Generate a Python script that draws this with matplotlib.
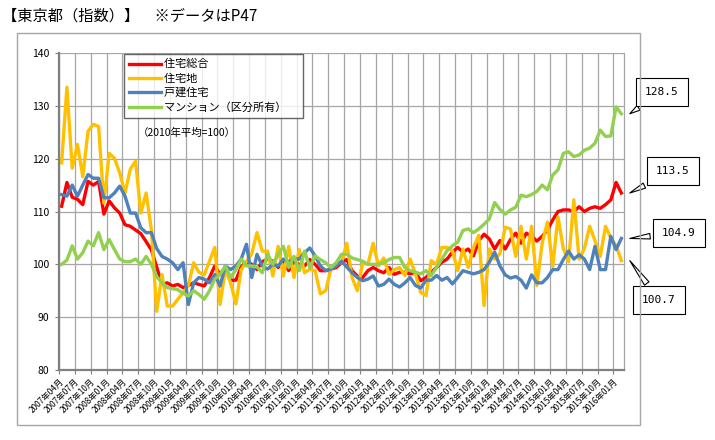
import numpy as np
import pandas as pd
import matplotlib
matplotlib.use('Agg')
import matplotlib.pyplot as plt
from matplotlib.patches import Rectangle

plt.rcParams['font.family'] = ['Noto Sans CJK JP', 'DejaVu Sans']

# monthly index, 2007-04 .. 2016-02 (2010 average = 100)
months = pd.period_range('2007-04', periods=107, freq='M')
month_labels = [f'{p.year}年{p.month:02d}月' for p in months]

total = [111.0, 115.5, 112.7, 112.3, 111.3, 115.7, 115.0, 115.7, 109.5, 112.0,
         110.7, 109.7, 107.5, 107.2, 106.5, 105.8, 104.3, 102.7, 99.5, 96.2,
         96.5, 95.9, 96.2, 95.6, 96.0, 96.5, 96.2, 95.9, 97.5, 99.7,
         98.1, 99.4, 97.0, 97.0, 99.5, 100.5, 100.0, 99.0, 100.5, 101.0,
         100.6, 99.4, 100.9, 98.8, 100.6, 100.0, 99.7, 100.9, 100.0, 98.8,
         98.8, 99.1, 99.4, 100.3, 100.9, 98.8, 97.8, 97.5, 98.8, 99.4,
         98.8, 98.4, 99.4, 98.1, 98.5, 98.5, 98.2, 98.5, 96.9, 97.5,
         98.5, 99.4, 100.4, 101.0, 102.3, 103.2, 102.3, 102.9, 101.6, 104.5,
         105.7, 104.8, 102.9, 104.5, 102.9, 104.7, 105.9, 104.0, 105.9, 105.3,
         104.4, 105.3, 106.5, 108.4, 110.0, 110.3, 110.3, 110.0, 110.9, 110.0,
         110.6, 110.9, 110.6, 111.3, 112.2, 115.5, 113.5]

land = [119.2, 133.5, 118.2, 122.7, 116.6, 125.2, 126.5, 126.1, 111.6, 121.0,
        120.1, 117.3, 113.5, 118.0, 119.5, 109.7, 113.5, 106.5, 91.1, 98.1,
        92.1, 92.1, 93.4, 94.6, 96.0, 100.3, 98.5, 98.0, 100.6, 103.2,
        92.4, 99.0, 96.5, 92.5, 99.0, 100.5, 102.0, 106.0, 102.5, 102.5,
        97.8, 103.4, 97.8, 103.4, 97.5, 102.8, 98.4, 99.1, 98.8, 94.4,
        95.0, 99.1, 100.3, 100.3, 104.0, 97.5, 95.0, 100.3, 100.0, 104.0,
        99.7, 101.2, 98.1, 99.0, 99.4, 97.9, 101.0, 98.2, 94.7, 94.1,
        100.7, 100.0, 103.2, 103.2, 102.6, 98.8, 102.9, 99.4, 103.2, 105.5,
        92.2, 102.9, 101.0, 102.0, 107.0, 106.7, 101.5, 107.2, 101.0, 107.2,
        96.0, 104.0, 108.0, 99.6, 109.0, 103.0, 100.5, 112.2, 101.0, 103.0,
        107.2, 104.5, 101.5, 107.2, 105.0, 103.5, 100.7]

house = [113.2, 112.9, 115.0, 112.9, 115.0, 117.0, 116.3, 116.3, 112.6, 112.6,
         113.5, 114.8, 112.9, 109.7, 109.7, 106.9, 106.0, 106.0, 103.0, 101.5,
         101.0, 100.3, 99.0, 100.3, 92.4, 96.5, 97.5, 97.2, 96.5, 98.1,
         95.9, 99.7, 99.0, 99.7, 101.0, 103.8, 97.5, 101.9, 99.7, 99.1,
         100.0, 99.7, 101.0, 100.5, 101.0, 101.0, 102.2, 103.1, 101.6, 99.7,
         98.8, 99.1, 99.7, 100.6, 99.5, 98.4, 97.5, 96.9, 97.2, 97.8,
         95.9, 96.2, 97.2, 96.2, 95.7, 96.5, 97.5, 96.0, 95.5, 97.0,
         97.0, 97.9, 97.0, 97.5, 96.3, 97.5, 98.8, 98.5, 98.2, 98.5,
         99.0, 100.4, 102.3, 99.7, 98.0, 97.4, 97.7, 97.0, 95.5, 98.0,
         96.5, 96.5, 97.5, 99.0, 99.0, 100.9, 102.5, 101.0, 101.8, 101.0,
         99.0, 103.4, 99.0, 99.0, 105.3, 102.8, 104.9]

condo = [100.0, 100.8, 103.5, 101.0, 102.2, 104.4, 103.5, 106.0, 102.8, 104.7,
         102.8, 101.0, 100.5, 100.5, 101.0, 100.0, 101.5, 100.0, 97.7, 96.5,
         95.6, 95.4, 95.2, 94.5, 94.0, 95.0, 94.3, 93.4, 95.0, 97.2,
         98.1, 99.7, 97.5, 99.0, 101.0, 99.7, 99.7, 99.5, 98.4, 101.9,
         100.0, 101.9, 103.4, 99.4, 101.5, 98.8, 102.5, 99.4, 101.6, 100.9,
         100.3, 99.4, 100.3, 101.9, 101.9, 101.2, 100.9, 100.6, 100.0, 100.0,
         100.0, 100.3, 100.9, 101.3, 101.3, 99.4, 98.8, 98.5, 98.2, 98.8,
         97.9, 99.4, 101.0, 102.6, 103.5, 104.2, 106.4, 106.7, 106.0, 106.7,
         107.6, 108.6, 111.7, 110.4, 109.5, 110.3, 110.8, 113.1, 112.8, 113.2,
         113.8, 115.0, 114.1, 116.9, 117.9, 121.0, 121.3, 120.4, 120.7, 121.6,
         122.0, 122.9, 125.4, 124.2, 124.3, 129.8, 128.5]

series_names = ['住宅総合', '住宅地', '戸建住宅', 'マンション（区分所有）']
series_colors = ['#FF0000', '#FFC000', '#4F81BD', '#92D050']

W, H = 715, 440
fig = plt.figure(figsize=(W / 100, H / 100), dpi=100)
ax = fig.add_axes([59 / W, 1 - 370 / H, (624 - 59) / W, (370 - 53) / H])

x = np.arange(len(months))
for vals, name, col in zip([total, land, house, condo], series_names, series_colors):
    ax.plot(x, vals, color=col, lw=2.4, label=name, solid_joinstyle='round')

ax.set_xlim(-0.5, len(months) - 0.5)
ax.set_ylim(80, 140)
ax.set_yticks(np.arange(80, 141, 10))
ax.tick_params(axis='y', labelsize=7.5, length=3, color='#808080', pad=4)

tick_pos = np.arange(0, len(months), 3) - 0.5
ax.set_xticks(tick_pos)
ax.set_xticklabels(month_labels[::3], rotation=45, ha='right', va='top',
                   rotation_mode='anchor', fontsize=6)
ax.tick_params(axis='x', length=3, color='#808080', pad=2)

ax.grid(True, color='#A6A6A6', lw=0.9)
ax.set_axisbelow(True)
ax.spines['top'].set_visible(False)
ax.spines['right'].set_color('#A6A6A6')
ax.spines['right'].set_linewidth(0.9)
for s in ['left', 'bottom']:
    ax.spines[s].set_color('#808080')
    ax.spines[s].set_linewidth(1.6)

# trailing full-width space widens the frame on the right like the original
leg_labels = [n + '　' for n in series_names]
handles = ax.get_lines()
leg = fig.legend(handles, leg_labels, loc='upper left', bbox_to_anchor=(118 / W, 1 - 48 / H),
                 fontsize=8, frameon=True, fancybox=False, handlelength=2.9,
                 labelspacing=0.35, borderpad=0.5, handletextpad=0.2)
leg.get_frame().set_edgecolor('#404040')
leg.get_frame().set_linewidth(1.0)

fig.text(138 / W, 1 - 133 / H, '（2010年平均=100）', fontsize=7.5, va='center')
fig.text(2 / W, 1 - 16 / H, '【東京都（指数）】　※データはP47', fontsize=11, va='center')

fig.add_artist(Rectangle((17 / W, 1 - 425 / H), (640 - 17) / W, (425 - 33) / H,
                         transform=fig.transFigure, fill=False, ec='#A6A6A6', lw=1.0))

last = len(months) - 1
callouts = [(condo[-1], 662, 92), (total[-1], 673, 171), (house[-1], 679, 233), (land[-1], 659, 300)]
for val, cx, cy in callouts:
    ax.annotate(f'{val:.1f}', xy=(last + 1.6, val), xytext=(cx, H - cy),
                textcoords='figure pixels', ha='center', va='center',
                fontsize=8, family='DejaVu Sans Mono', annotation_clip=False,
                bbox=dict(boxstyle='square,pad=0.8', fc='white', ec='black', lw=0.8),
                arrowprops=dict(arrowstyle='wedge,tail_width=0.5,shrink_factor=0.5',
                                fc='white', ec='black', lw=0.8, shrinkB=0))

fig.savefig('out.png', dpi=100)
